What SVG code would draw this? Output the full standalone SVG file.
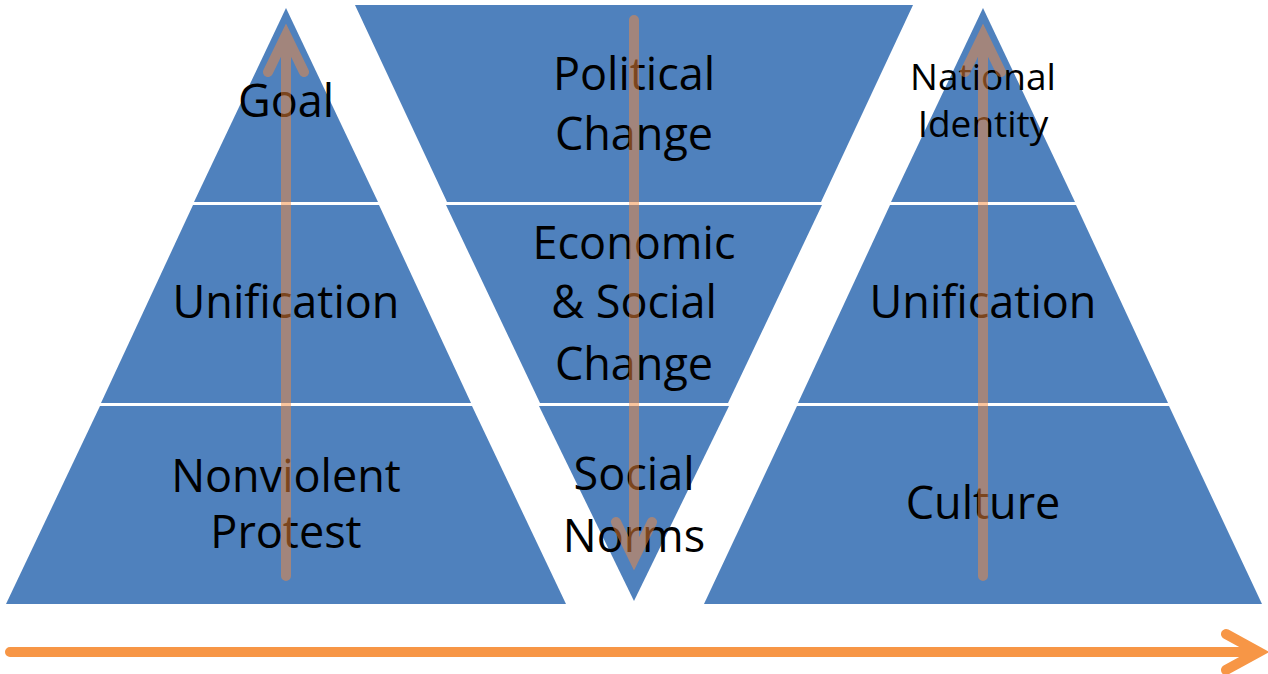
<svg xmlns="http://www.w3.org/2000/svg" width="1268" height="674" viewBox="0 0 1268 674">
<style>
.band{fill:#4F81BD}
.t{font-family:"Open Sans","Noto Sans",sans-serif;fill:#000;text-anchor:middle}
.big{font-size:45px}
.small{font-size:37px}
.va{fill:none;stroke:#F58A3C;stroke-opacity:0.5;stroke-width:10;stroke-linecap:round;stroke-linejoin:miter}
.ha{fill:none;stroke:#F79646;stroke-width:10;stroke-linecap:round;stroke-linejoin:miter}
</style>
<rect width="1268" height="674" fill="#fff"/>
<g id="left-pyramid">
  <g id="goal"><polygon class="band" points="286,8 378,202 194,202"/><text class="t big" x="286" y="117">Goal</text></g>
  <g id="unification-left"><polygon class="band" points="193,205 379,205 471,403 101,403"/><text class="t big" x="286" y="318">Unification</text></g>
  <g id="nonviolent-protest"><polygon class="band" points="100,406 472,406 566,604 6,604"/><text class="t big" x="286" y="492">Nonviolent</text><text class="t big" x="286" y="548">Protest</text></g>
</g>
<g id="middle-pyramid">
  <g id="political-change"><polygon class="band" points="355,5 913,5 821,202 447,202"/><text class="t big" x="634" y="90">Political</text><text class="t big" x="634" y="150">Change</text></g>
  <g id="economic-social-change"><polygon class="band" points="446,205 822,205 728,403 540,403"/><text class="t big" x="634" y="259">Economic</text><text class="t big" x="634" y="318">&amp; Social</text><text class="t big" x="634" y="380">Change</text></g>
  <g id="social-norms"><polygon class="band" points="539,406 729,406 634,601"/><text class="t big" x="634" y="490">Social</text><text class="t big" x="634" y="552">Norms</text></g>
</g>
<g id="right-pyramid">
  <g id="national-identity"><polygon class="band" points="983,8 1075,202 891,202"/><text class="t small" x="983" y="90">National</text><text class="t small" x="983" y="137">Identity</text></g>
  <g id="unification-right"><polygon class="band" points="890,205 1076,205 1168,403 798,403"/><text class="t big" x="983" y="318">Unification</text></g>
  <g id="culture"><polygon class="band" points="797,406 1169,406 1262,604 704,604"/><text class="t big" x="983" y="519">Culture</text></g>
</g>
<g id="connectors">
  <path class="va" d="M286,576 V36 M268,72 L286,35 L304,72"/>
  <path class="va" d="M634,20 V558 M616,522 L634,559 L652,522"/>
  <path class="va" d="M983,576 V36 M965,72 L983,35 L1001,72"/>
  <path class="ha" d="M10,652 H1258 M1226,634 L1259,652 L1226,670"/>
</g>
</svg>
